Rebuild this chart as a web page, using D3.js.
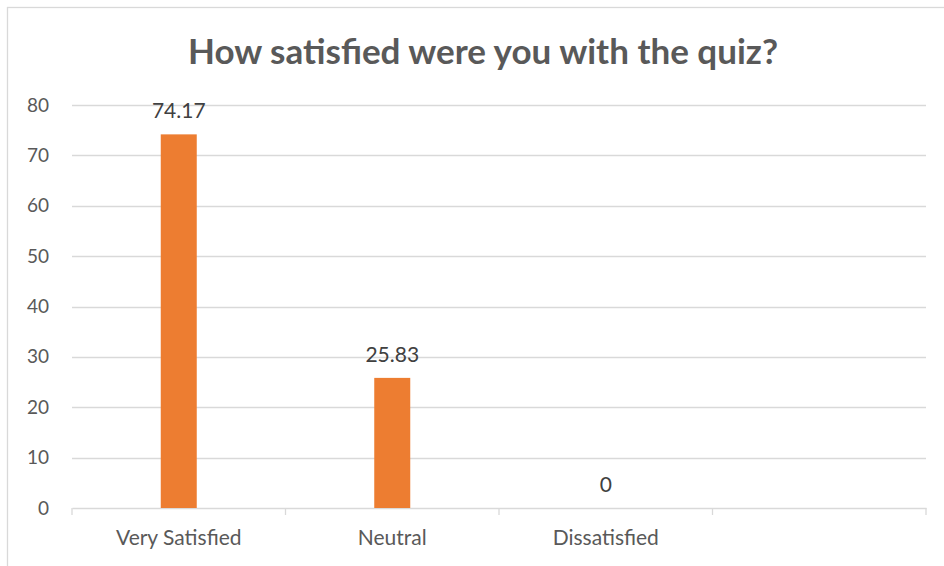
<!DOCTYPE html>
<html>
<head>
<meta charset="utf-8">
<script src="https://cdn.jsdelivr.net/npm/d3@7"></script>
<style>
  body { margin: 0; background: #fff; }
  text { font-family: Lato, "Open Sans", sans-serif; }
</style>
</head>
<body>
<script>
// chart data
var categories = ["Very Satisfied", "Neutral", "Dissatisfied", ""];
var values = [74.17, 25.83, 0, null];
var labels = ["74.17", "25.83", "0", ""];
var yTicks = [0, 10, 20, 30, 40, 50, 60, 70, 80];

var W = 944, H = 566;
var margin = {left: 72, right: 18, top: 105, bottom: 58};

var svg = d3.select("body").append("svg")
    .attr("width", W)
    .attr("height", H);

// chart frame
svg.append("rect")
    .attr("x", 7.5).attr("y", 7.5)
    .attr("width", W).attr("height", H)
    .attr("fill", "none")
    .attr("stroke", "#d9d9d9")
    .attr("stroke-width", 1.3);

var x = d3.scaleBand()
    .domain(d3.range(categories.length))
    .range([margin.left, W - margin.right]);

var y = d3.scaleLinear()
    .domain([0, 80])
    .range([H - margin.bottom, margin.top]);

// gridlines
svg.append("g")
    .selectAll("line")
    .data(yTicks.slice(1))
    .enter().append("line")
    .attr("x1", x.range()[0]).attr("x2", x.range()[1])
    .attr("y1", function(d) { return Math.round(y(d)) + 0.5; })
    .attr("y2", function(d) { return Math.round(y(d)) + 0.5; })
    .attr("stroke", "#d9d9d9")
    .attr("stroke-width", 1.3);

// y axis labels
var yAxis = d3.axisLeft(y).tickValues(yTicks).tickSize(0).tickPadding(23);
var gy = svg.append("g")
    .attr("transform", "translate(" + margin.left + ",0)")
    .call(yAxis);
gy.select(".domain").remove();
gy.selectAll("text")
    .attr("fill", "#595959")
    .style("font-size", "19px");

// x axis
var xAxis = d3.axisBottom(x).tickSize(0).tickFormat(function(i) { return categories[i]; }).tickPadding(22);
var gx = svg.append("g")
    .attr("transform", "translate(0," + y(0) + ")")
    .call(xAxis);
gx.select(".domain").attr("stroke", "#d9d9d9").attr("stroke-width", 1.3);
gx.selectAll("text")
    .attr("fill", "#595959")
    .style("font-size", "21px");

// ticks between categories
svg.append("g")
    .selectAll("line")
    .data(d3.range(categories.length + 1))
    .enter().append("line")
    .attr("x1", function(i) { return x.range()[0] + i * x.step(); })
    .attr("x2", function(i) { return x.range()[0] + i * x.step(); })
    .attr("y1", y(0))
    .attr("y2", y(0) + 7)
    .attr("stroke", "#d9d9d9")
    .attr("stroke-width", 1.3);

// bars
var barW = 36;
svg.append("g")
    .selectAll("rect")
    .data(values.map(function(v, i) { return {v: v, i: i}; }).filter(function(d) { return d.v !== null; }))
    .enter().append("rect")
    .attr("x", function(d) { return x(d.i) + x.bandwidth() / 2 - barW / 2; })
    .attr("width", barW)
    .attr("y", function(d) { return y(d.v); })
    .attr("height", function(d) { return y(0) - y(d.v); })
    .attr("fill", "#ed7d31");

// data labels
svg.append("g")
    .selectAll("text")
    .data(values.map(function(v, i) { return {v: v, i: i}; }).filter(function(d) { return d.v !== null; }))
    .enter().append("text")
    .attr("x", function(d) { return x(d.i) + x.bandwidth() / 2; })
    .attr("y", function(d) { return y(d.v) - 16; })
    .attr("text-anchor", "middle")
    .attr("fill", "#404040")
    .style("font-size", "21px")
    .text(function(d) { return labels[d.i]; });

// title
svg.append("text")
    .attr("x", 483)
    .attr("y", 64)
    .attr("text-anchor", "middle")
    .attr("fill", "#595959")
    .style("font-size", "35px")
    .style("font-weight", "bold")
    .text("How satisfied were you with the quiz?");
</script>
</body>
</html>
